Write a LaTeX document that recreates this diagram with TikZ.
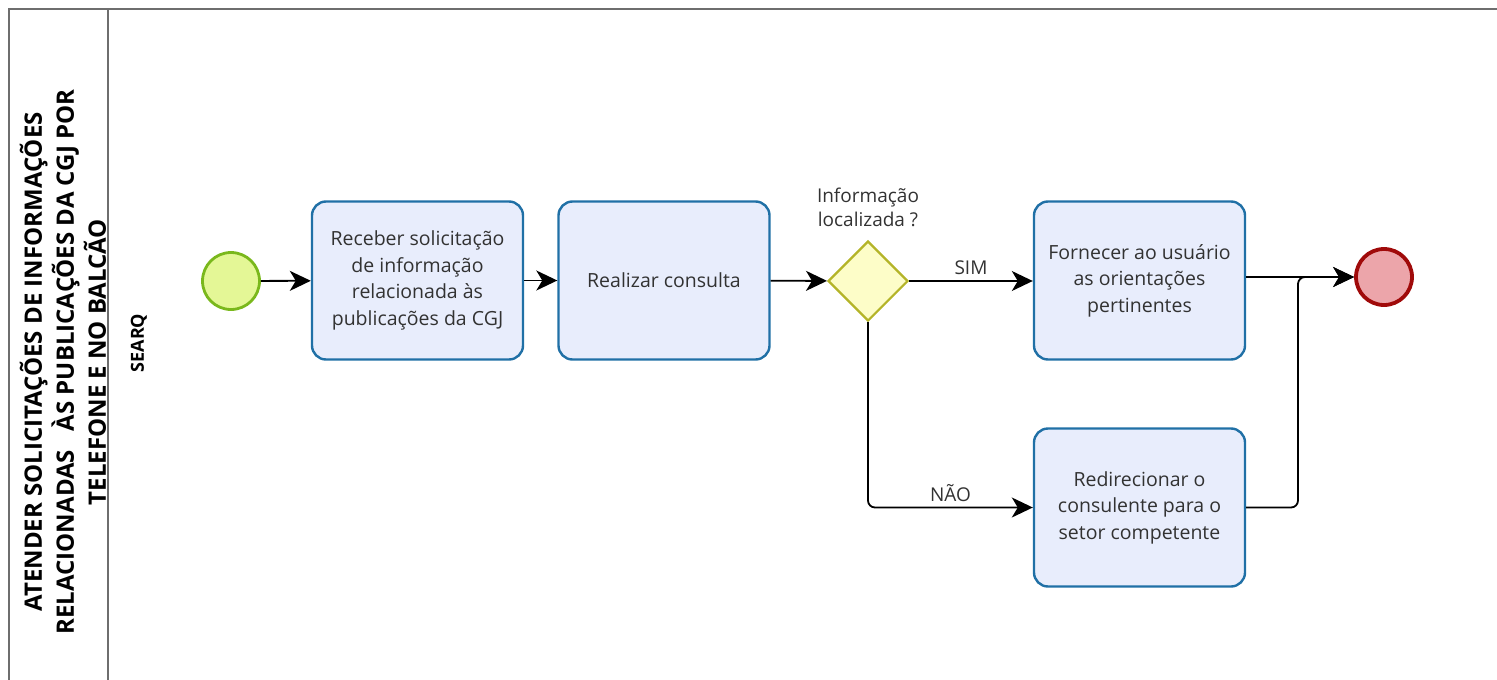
\documentclass[tikz,border=0pt]{standalone}
\usepackage{fontspec}
\setmainfont{Open Sans}
\usetikzlibrary{arrows.meta,shapes.geometric}
\definecolor{taskfill}{RGB}{232,237,252}
\definecolor{taskdraw}{RGB}{32,112,166}
\definecolor{startfill}{RGB}{228,247,150}
\definecolor{startdraw}{RGB}{122,184,28}
\definecolor{endfill}{RGB}{236,165,170}
\definecolor{enddraw}{RGB}{160,10,10}
\definecolor{gwfill}{RGB}{253,253,200}
\definecolor{gwdraw}{RGB}{180,180,40}
\definecolor{txt}{RGB}{50,50,50}
\definecolor{lanegray}{RGB}{110,110,110}
\tikzset{
  taskbox/.style={draw=taskdraw, fill=taskfill, line width=2.4pt, rounded corners=14pt,
    minimum width=211pt, minimum height=158pt, align=center, text=txt, font=\fontsize{19.5}{26.5}\selectfont, inner sep=2pt},
  startev/.style={circle, draw=startdraw, fill=startfill, line width=2.8pt, minimum size=57pt, inner sep=0pt},
  endev/.style={circle, draw=enddraw, fill=endfill, line width=3.8pt, minimum size=56pt, inner sep=0pt},
  gateway/.style={diamond, draw=gwdraw, fill=gwfill, line width=2.2pt, minimum width=80pt, minimum height=80pt, inner sep=0pt},
  tipA/.tip={Stealth[length=21pt,width=20pt,inset=6pt]},
  flow/.style={draw=black, line width=1.8pt, -tipA},
  bent/.style={rounded corners=7pt},
  lbl/.style={text=txt, font=\fontsize{19}{24}\selectfont, align=center},
  lane/.style={draw=lanegray, line width=1.6pt}
}
\begin{document}
\begin{tikzpicture}[x=1pt,y=-1pt]
\useasboundingbox (0,0) rectangle (1497,680);
% pool and lane borders
\draw[lane] (9,690) -- (9,9) -- (1505,9);
\draw[lane] (108,9) -- (108,690);
\node[rotate=90, align=center, font=\bfseries\fontsize{24}{32}\selectfont, text=black] (pool) at (63,362)
  {ATENDER SOLICITAÇÕES DE INFORMAÇÕES\\RELACIONADAS \ \ ÀS PUBLICAÇÕES DA CGJ POR\\TELEFONE E NO BALCÃO};
\node[rotate=90, font=\bfseries\fontsize{18}{20}\selectfont, text=black] (laneA) at (139,343) {SEARQ};
% nodes
\node[startev] (start) at (231,281) {};
\node[taskbox] (t1) at (417.5,280.5) {Receber solicitação\\de informação\\relacionada às\\publicações da CGJ};
\node[taskbox] (t2) at (664,280.5) {Realizar consulta};
\node[gateway] (gw) at (868,281) {};
\node[lbl, anchor=south] (gwl) at (868,230) {Informação\\localizada ?};
\node[taskbox] (t3) at (1139.5,280.5) {Fornecer ao usuário\\as orientações\\pertinentes};
\node[taskbox] (t4) at (1139.5,507.5) {Redirecionar o\\consulente para o\\setor competente};
\node[endev] (end) at (1384,277) {};
% flows
\draw[flow] (start) -- (t1);
\draw[flow] (t1) -- (t2);
\draw[flow] (t2) -- (gw);
\draw[flow] (gw) -- node[lbl, above=2pt] (sim) {SIM} (t3.west |- gw);
\draw[flow, bent] (gw.south) |- node[lbl, pos=0.75, above=2pt] (nao) {NÃO} (t4.west);
\draw[flow] (t3.east |- end) -- (end);
\coordinate (j) at (1298,277);
\draw[flow, bent] (t4.east) -| (j) -- (end);
\end{tikzpicture}
\end{document}
